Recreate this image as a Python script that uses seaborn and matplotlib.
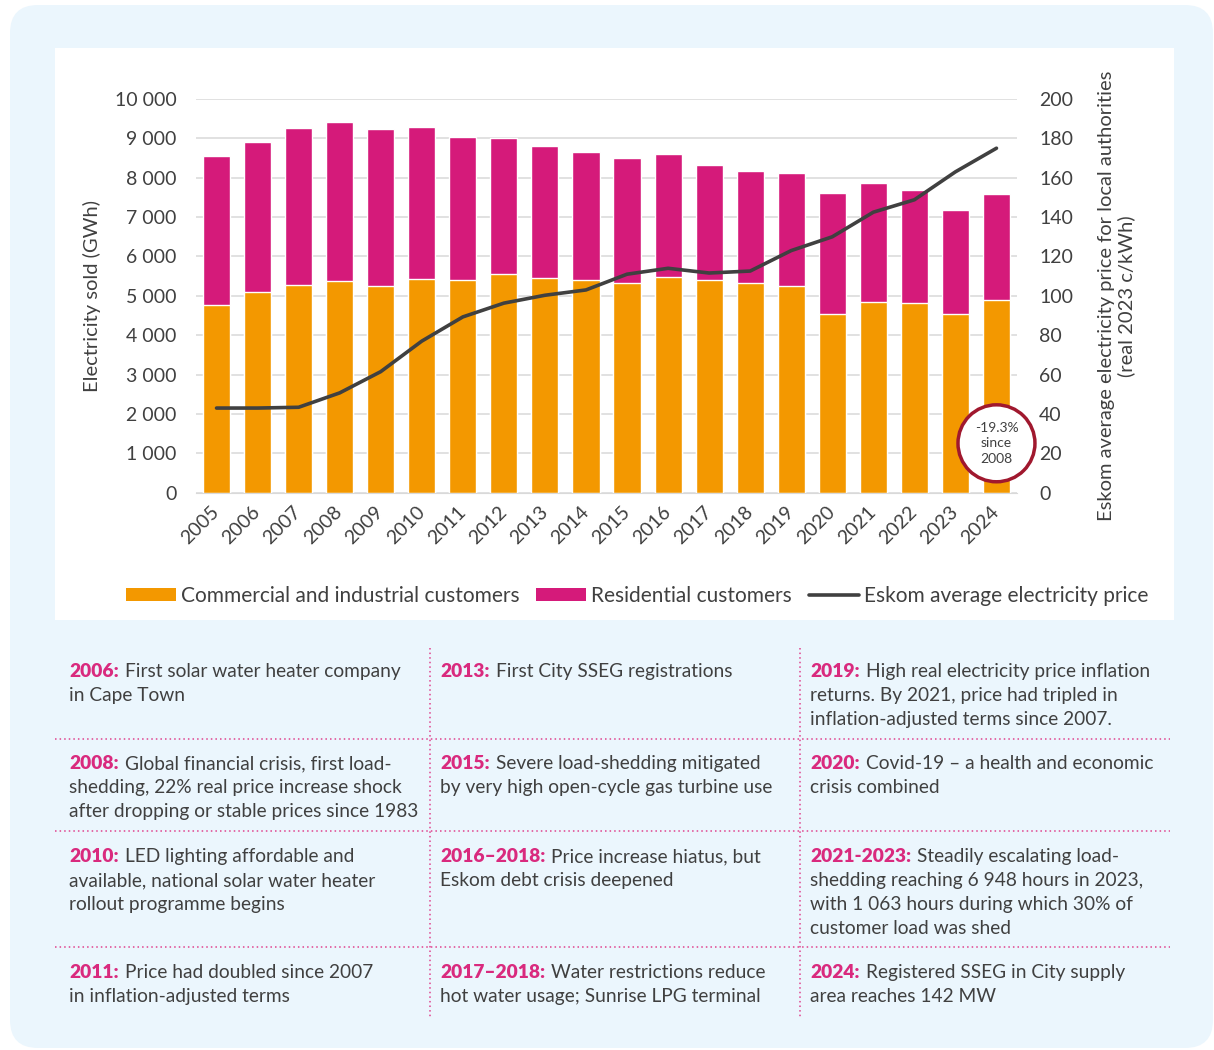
import numpy as np
import pandas as pd
import matplotlib
matplotlib.use("Agg")
import matplotlib.pyplot as plt
import seaborn as sns
from matplotlib.patches import FancyBboxPatch, Rectangle, Patch
from matplotlib.lines import Line2D
from matplotlib.ticker import FuncFormatter, MultipleLocator

# Data
years = list(range(2005, 2025))
commercial = [4780, 5100, 5265, 5365, 5240, 5435, 5410, 5545, 5450, 5390,
              5330, 5485, 5390, 5330, 5255, 4530, 4845, 4815, 4550, 4890]
residential = [3770, 3810, 4005, 4050, 3995, 3860, 3630, 3460, 3360, 3275,
               3180, 3120, 2945, 2835, 2865, 3070, 3030, 2875, 2635, 2695]
price = [43, 43, 43.4, 50.7, 61.5, 77, 89.3, 96.3, 100.3, 103,
         111, 114, 111.6, 112.6, 123, 130, 142.5, 148.8, 163, 175]

notes = [
    ("2006:", ["First solar water heater company", "in Cape Town"]),
    ("2013:", ["First City SSEG registrations"]),
    ("2019:", ["High real electricity price inflation", "returns. By 2021, price had tripled in",
               "inflation-adjusted terms since 2007."]),
    ("2008:", ["Global financial crisis, first load-", "shedding, 22% real price increase shock",
               "after dropping or stable prices since 1983"]),
    ("2015:", ["Severe load-shedding mitigated", "by very high open-cycle gas turbine use"]),
    ("2020:", ["Covid-19 \u2013 a health and economic", "crisis combined"]),
    ("2010:", ["LED lighting affordable and", "available, national solar water heater",
               "rollout programme begins"]),
    ("2016\u20132018:", ["Price increase hiatus, but", "Eskom debt crisis deepened"]),
    ("2021-2023:", ["Steadily escalating load-", "shedding reaching 6 948 hours in 2023,",
                    "with 1 063 hours during which 30% of", "customer load was shed"]),
    ("2011:", ["Price had doubled since 2007", "in inflation-adjusted terms"]),
    ("2017\u20132018:", ["Water restrictions reduce", "hot water usage; Sunrise LPG terminal"]),
    ("2024:", ["Registered SSEG in City supply", "area reaches 142 MW"]),
]

df = pd.DataFrame({"year": years, "commercial": commercial, "residential": residential, "price": price})
df["total"] = df["commercial"] + df["residential"]

ORANGE = "#F39800"
MAGENTA = "#D51A7A"
LINE = "#404040"
TEXT = "#404040"
PINK = "#D92A7E"
BG = "#EBF6FD"

sns.set_style("white")
plt.rcParams["font.family"] = ["Lato", "DejaVu Sans"]

W, H = 1214, 1050
fig = plt.figure(figsize=(W / 100, H / 100), dpi=100)
fig.patch.set_facecolor("white")

# background boxes (inches via dpi_scale_trans)
fig.patches.append(FancyBboxPatch((0.10, (H - 1048) / 100), 12.03, 10.43,
                                  boxstyle="round,pad=0,rounding_size=0.28",
                                  transform=fig.dpi_scale_trans, fc=BG, ec="none", zorder=-10))
fig.patches.append(Rectangle((55 / W, 1 - 620 / H), (1174 - 55) / W, (620 - 48) / H,
                             transform=fig.transFigure, fc="white", ec="none", zorder=-9))

ax = fig.add_axes([196 / W, 1 - 492.7 / H, (1017 - 196) / W, (492.7 - 99) / H])
ax.set_facecolor("none")

sns.barplot(data=df, x="year", y="total", color=MAGENTA, saturation=1, width=0.66, ax=ax, zorder=2)
sns.barplot(data=df, x="year", y="commercial", color=ORANGE, saturation=1, width=0.66, ax=ax, zorder=2)

ax.set_ylim(0, 10000)
ax.set_xlim(-0.5, len(years) - 0.5)
ax.yaxis.set_major_locator(MultipleLocator(1000))
ax.yaxis.set_major_formatter(FuncFormatter(lambda v, p: f"{int(v):,}".replace(",", " ")))
ax.yaxis.grid(True, color="#dcdcdc", lw=1.2)
ax.set_axisbelow(True)
for s in ["top", "right", "left"]:
    ax.spines[s].set_visible(False)
ax.spines["bottom"].set_color("#d9d9d9")
ax.tick_params(axis="y", length=0, pad=14, labelsize=14, labelcolor=TEXT)
ax.tick_params(axis="x", length=0, pad=12, labelsize=14, labelcolor=TEXT)
ax.set_ylabel("Electricity sold (GWh)", fontsize=14.5, color=TEXT, labelpad=10)

ax2 = ax.twinx()
sns.lineplot(x=np.arange(len(years)), y=df["price"], ax=ax2, color=LINE, lw=2.6, zorder=3)
ax2.set_ylim(0, 200)
ax2.yaxis.set_major_locator(MultipleLocator(20))
for s in ax2.spines.values():
    s.set_visible(False)
ax2.tick_params(axis="y", length=0, pad=16, labelsize=14, labelcolor=TEXT)
ax2.set_ylabel("Eskom average electricity price for local authorities\n(real 2023 c/kWh)",
               fontsize=14.5, color=TEXT, labelpad=18, linespacing=1.15)

ax.set_xticks(range(len(years)))
ax.set_xticklabels([str(y) for y in years], rotation=45, ha="right", va="center",
                   rotation_mode="anchor")
ax.set_xlabel("")
ax2.set_xlabel("")

ax2.text(19, 1255 / 50, "-19.3%\nsince\n2008", ha="center", va="center", fontsize=10,
         color=TEXT, linespacing=1.35, zorder=5,
         bbox=dict(boxstyle="circle,pad=1.2", fc="white", ec="#A0182E", lw=2.5))

handles = [Patch(fc=ORANGE, ec="none"), Patch(fc=MAGENTA, ec="none"),
           Line2D([0], [0], color=LINE, lw=2.6)]
labels = ["Commercial and industrial customers", "Residential customers",
          "Eskom average electricity price"]
fig.legend(handles, labels, loc="center", bbox_to_anchor=(637 / W, 1 - 596 / H), ncol=3,
           frameon=False, fontsize=15, handlelength=2.4, handleheight=0.6,
           handletextpad=0.25, columnspacing=0.8, labelcolor=TEXT)

# timeline notes table
col_x = [69, 440, 810]
row_base = [677, 769, 862, 978]
renderer = fig.canvas.get_renderer()
for i, (yr, lines) in enumerate(notes):
    r, c = divmod(i, 3)
    x0, y0 = col_x[c], row_base[r]
    t = fig.text(x0 / W, 1 - y0 / H, yr, fontsize=13.8, fontweight="heavy", color=PINK, va="baseline")
    bb = t.get_window_extent(renderer)
    for k, line in enumerate(lines):
        xx = (bb.x1 + 6) / W if k == 0 else x0 / W
        fig.text(xx, 1 - (y0 + 24 * k) / H, line, fontsize=13.8, color=TEXT, va="baseline")

dot = dict(color="#E0428E", lw=1.1, ls=(0, (1, 2)), transform=fig.transFigure)
for yy in [739, 831, 947]:
    fig.add_artist(Line2D([55 / W, 1170 / W], [1 - yy / H, 1 - yy / H], **dot))
for xx in [430, 800]:
    fig.add_artist(Line2D([xx / W, xx / W], [1 - 648 / H, 1 - 1018 / H], **dot))

fig.savefig("out.png", dpi=100)
